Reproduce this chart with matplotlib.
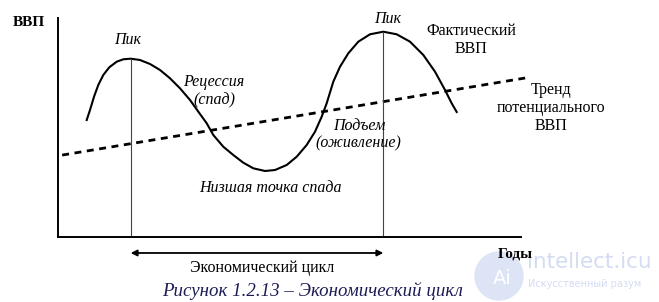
"""
Экономический цикл: фактический ВВП и тренд потенциального ВВП
"""
import numpy as np
import matplotlib
matplotlib.use("Agg")
import matplotlib.pyplot as plt
from matplotlib.patches import Circle

# фактический ВВП (условные единицы)
gdp_x = [6.20, 6.91, 7.78, 8.70, 9.78, 11.08, 12.68, 14.10, 15.70, 17.71,
         19.87, 22.03, 24.19, 26.35, 28.51, 30.67, 32.12, 33.54, 35.70, 37.86,
         40.02, 42.18, 44.71, 46.87, 49.40, 51.56, 53.71, 55.51, 56.95, 58.03,
         59.46, 60.91, 62.70, 64.86, 67.39, 70.26, 73.15, 76.03, 78.90, 81.43,
         83.59, 85.03, 86.11]
gdp_y = [53.42, 57.99, 64.06, 69.41, 73.97, 77.49, 80.05, 81.14, 81.42, 80.82,
         79.00, 76.26, 72.47, 67.90, 62.56, 56.16, 51.92, 46.58, 41.23, 37.44,
         33.93, 31.37, 30.14, 30.59, 32.88, 36.67, 42.01, 48.08, 54.93, 61.05,
         70.91, 77.76, 83.88, 89.18, 92.56, 93.74, 92.56, 89.18, 83.11, 75.48,
         67.12, 61.05, 57.08]
# тренд потенциального ВВП
trend_x = [0.9, 100.9]
trend_y = [37.4, 72.6]
# пики
peaks_x = [15.70, 70.26]
peaks_y = [81.42, 93.74]

serif = "Liberation Serif"

fig = plt.figure(figsize=(6.59, 3.02), dpi=100)
ax = fig.add_axes([58 / 659, 65 / 302, 463 / 659, 219 / 302])
ax.set_xlim(0, 100)
ax.set_ylim(0, 100)
for s in ["top", "right"]:
    ax.spines[s].set_visible(False)
for s in ["left", "bottom"]:
    ax.spines[s].set_linewidth(1.4)
ax.set_xticks([])
ax.set_yticks([])

ax.plot(gdp_x, gdp_y, color="black", lw=1.5, solid_joinstyle="round")
ax.plot(trend_x, trend_y, color="black", lw=2.0, ls=(0, (2.5, 2)), clip_on=False)
for px, py in zip(peaks_x, peaks_y):
    ax.plot([px, px], [0, py], color="#444444", lw=0.8)

# стрелка цикла
ax.annotate("", xy=(peaks_x[0], -7.3), xytext=(peaks_x[1], -7.3),
            arrowprops=dict(arrowstyle="<|-|>", color="black", lw=1.3,
                            mutation_scale=9, shrinkA=0, shrinkB=0),
            annotation_clip=False)

# подписи в пиксельных координатах
ov = fig.add_axes([0, 0, 1, 1], facecolor="none")
ov.set_xlim(0, 659)
ov.set_ylim(302, 0)
ov.axis("off")

def t(x, y, s, size=11.5, style="italic", weight="normal", color="black"):
    ov.text(x, y, s, ha="center", va="center", fontsize=size, fontstyle=style,
            fontweight=weight, color=color, family=serif, zorder=3)

# водяной знак
ov.add_patch(Circle((499, 276), 24, color="#dde4f6", zorder=0))
ov.text(502, 278, "Ai", ha="center", va="center", fontsize=14, color="white",
        family="DejaVu Sans", zorder=1)
ov.text(527, 262, "intellect.icu", ha="left", va="center", fontsize=15.5,
        color="#d3dcf2", family="DejaVu Sans", zorder=1)
ov.text(528, 284, "Искусственный разум", ha="left", va="center", fontsize=7,
        color="#d3dcf2", family="DejaVu Sans", zorder=1)

t(29, 22, "ВВП", size=11, style="normal", weight="bold")
t(515, 254, "Годы", size=11, style="normal", weight="bold")
t(128, 40, "Пик")
t(388, 19, "Пик")
t(214, 82, "Рецессия")
t(214, 100, "(спад)")
t(359, 126, "Подъем")
t(358, 143, "(оживление)")
t(270, 188, "Низшая точка спада")
t(471, 31, "Фактический", style="normal")
t(471, 49, "ВВП", style="normal")
t(551, 90, "Тренд", style="normal")
t(551, 108, "потенциального", style="normal")
t(551, 126, "ВВП", style="normal")
t(262, 268, "Экономический цикл", size=11.5, style="normal")
t(313, 291, "Рисунок 1.2.13 – Экономический цикл", size=13.6, color="#1c1c55")

fig.savefig("out.png", dpi=100)
